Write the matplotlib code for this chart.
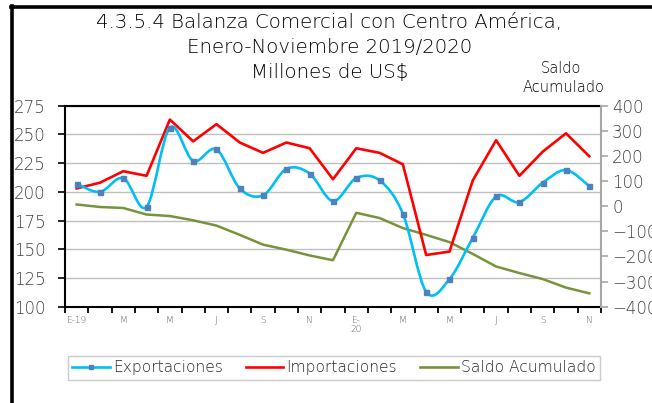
import numpy as np
import matplotlib
matplotlib.use('Agg')
import matplotlib.pyplot as plt
from matplotlib.path import Path
from matplotlib.patches import PathPatch
from matplotlib.lines import Line2D

plt.rcParams['font.family'] = ['DejaVu Sans']
plt.rcParams['font.weight'] = 'light'

# meses ene-2019 a nov-2020
meses = ['E-19', '', 'M', '', 'M', '', 'J', '', 'S', '', 'N', '',
         'E-\n20', '', 'M', '', 'M', '', 'J', '', 'S', '', 'N']
exportaciones = [207, 200, 212, 187, 256, 227, 237, 203, 197, 220, 216, 192,
                 212, 210, 181, 113, 124, 160, 196, 191, 208, 219, 205]
importaciones = [203, 208, 218, 214, 263, 244, 259, 243, 234, 243, 238, 211,
                 238, 234, 224, 145, 148, 210, 245, 214, 235, 251, 231]
saldo_acumulado = [7, -3, -7, -33, -39, -56, -77, -114, -153, -173, -196, -215,
                   -26, -47, -87, -114, -143, -190, -240, -266, -290, -324, -347]

x = np.arange(len(meses))

fig = plt.figure(figsize=(6.52, 4.03), dpi=100)
ax = fig.add_axes([0.0997, 0.239, 0.822, 0.4985])
ax2 = ax.twinx()

ax.set_xlim(-0.5, len(meses) - 0.5)
ax.set_ylim(100, 275)
ax2.set_ylim(-400, 400)


def curva_suave(xs, ys):
    # curva tipo excel (bezier por catmull-rom)
    pts = np.column_stack([xs, ys]).astype(float)
    verts = [pts[0]]
    codes = [Path.MOVETO]
    n = len(pts)
    for i in range(n - 1):
        p0 = pts[i - 1] if i > 0 else pts[i]
        p1 = pts[i]
        p2 = pts[i + 1]
        p3 = pts[i + 2] if i + 2 < n else pts[i + 1]
        c1 = p1 + (p2 - p0) / 6.0
        c2 = p2 - (p3 - p1) / 6.0
        verts += [c1, c2, p2]
        codes += [Path.CURVE4] * 3
    return Path(verts, codes)


ax.yaxis.grid(True, color='#BFBFBF', linewidth=1)
ax.set_axisbelow(True)

ax.plot(x, saldo_acumulado, color='#77933C', linewidth=1.8,
        transform=ax2.transData, zorder=2)
ax.set_ylim(100, 275)
ax.plot(x, importaciones, color='#FF0000', linewidth=1.9, zorder=3)
ax.add_patch(PathPatch(curva_suave(x, exportaciones), facecolor='none',
                       edgecolor='#00BFF3', linewidth=1.9, zorder=4))
ax.plot(x, exportaciones, linestyle='none', marker='s', markersize=3.6,
        color='#4F81BD', zorder=5)

# ejes
ax.set_yticks(np.arange(100, 276, 25))
ax2.set_yticks(np.arange(-400, 401, 100))
ax.set_xticks(np.arange(-0.5, len(meses), 1))
ax.set_xticklabels([])
ax.set_xticks(x, minor=True)
ax.set_xticklabels(meses, minor=True, fontsize=6.5, color='#595959',
                   linespacing=1.0, va='top')
ax.tick_params(axis='x', which='minor', length=0, pad=7)
ax.tick_params(axis='x', which='major', length=4, width=1.3, color='black')
ax.tick_params(axis='y', length=5, width=1.2, color='black',
               labelsize=12, labelcolor='#404040', pad=9)
ax2.tick_params(axis='y', length=5, width=1.2, color='#A6A6A6',
                labelsize=12, labelcolor='#404040', pad=3)

for s in ['left', 'bottom', 'top']:
    ax.spines[s].set_color('black')
    ax.spines[s].set_linewidth(1.5)
ax.spines['right'].set_visible(False)
for s in ['left', 'bottom', 'top']:
    ax2.spines[s].set_visible(False)
ax2.spines['right'].set_color('#A6A6A6')
ax2.spines['right'].set_linewidth(1.5)

# titulos
fig.text(0.505, 0.945, '4.3.5.4 Balanza Comercial con Centro América,',
         ha='center', va='center', fontsize=14.2, color='black')
fig.text(0.505, 0.882, 'Enero-Noviembre 2019/2020', ha='center', va='center',
         fontsize=14.2, color='black')
fig.text(0.505, 0.82, 'Millones de US$', ha='center', va='center',
         fontsize=14.2, color='black')
fig.text(0.86, 0.831, 'Saldo', ha='center', va='center', fontsize=10.5,
         color='black')
fig.text(0.864, 0.782, 'Acumulado', ha='center', va='center', fontsize=10.5,
         color='black')

# leyenda
handles = [
    Line2D([], [], color='#00BFF3', linewidth=1.9, marker='s', markersize=3,
           markerfacecolor='#4F81BD', markeredgecolor='#4F81BD'),
    Line2D([], [], color='#FF0000', linewidth=1.9),
    Line2D([], [], color='#77933C', linewidth=1.9),
]
leg = fig.legend(handles, ['Exportaciones', 'Importaciones', 'Saldo Acumulado'],
                 loc='center', bbox_to_anchor=(0.512, 0.087), ncol=3,
                 fontsize=11.2, frameon=True, fancybox=False,
                 edgecolor='#BFBFBF', handlelength=2.4, handletextpad=0.2,
                 columnspacing=1.5, borderpad=0.3, borderaxespad=0)
leg.get_frame().set_linewidth(1.0)
for t in leg.get_texts():
    t.set_color('#262626')

# marco
fig.add_artist(Line2D([0.0184, 0.0184], [0, 0.985], color='black',
                      linewidth=2.6, transform=fig.transFigure))
fig.add_artist(Line2D([0.0165, 1.0], [0.9826, 0.9826], color='black',
                      linewidth=2.6, transform=fig.transFigure))

fig.savefig('out.png', dpi=100)
